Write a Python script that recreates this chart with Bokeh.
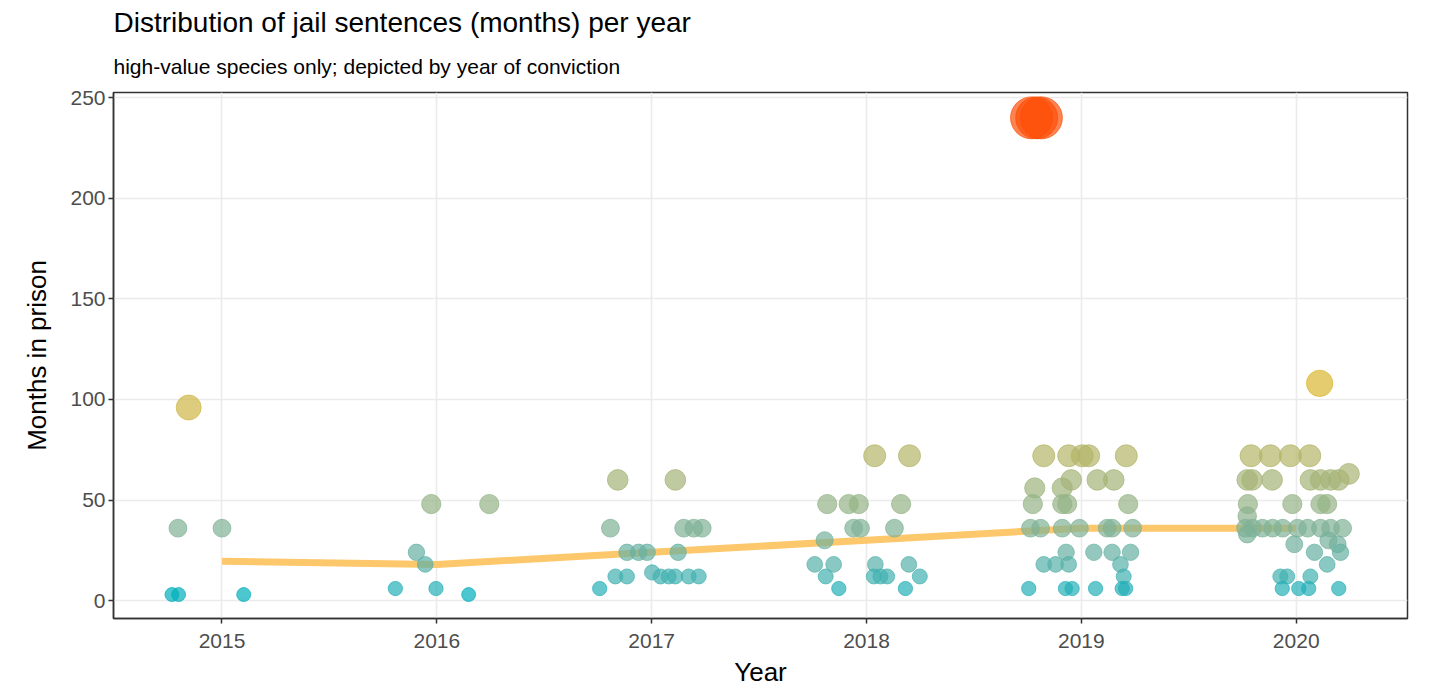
import numpy as np
from bokeh.plotting import figure
from bokeh.models import ColumnDataSource, Range1d, FixedTicker, Title
from bokeh.transform import linear_cmap
from bokeh.embed import file_html
from bokeh.resources import INLINE

# Yearly summary line (months in prison per conviction year)
years = [2015, 2016, 2017, 2018, 2019, 2020]
median_months = [19.5, 18, 24, 30, 36, 36]

# Individual cases: jittered position around the conviction year, sentence in months
x_2015 = [2014.845, 2014.795, 2015.000, 2014.767, 2014.798, 2015.101]
m_2015 = [96, 36, 36, 3, 3, 3]

x_2016 = [2015.807, 2015.905, 2015.946, 2015.974, 2015.996, 2016.148, 2016.244]
m_2016 = [6, 24, 18, 48, 6, 3, 48]

x_2017 = [2016.842, 2017.110, 2016.808, 2017.149, 2017.196, 2017.235, 2016.885,
          2016.939, 2016.979, 2017.123, 2016.831, 2016.885, 2017.002, 2017.041,
          2017.079, 2017.110, 2017.172, 2017.219, 2016.758]
m_2017 = [60, 60, 36, 36, 36, 36, 24,
          24, 24, 24, 12, 12, 14, 12,
          12, 12, 12, 12, 6]

x_2018 = [2018.038, 2018.200, 2017.817, 2017.917, 2017.964, 2018.161, 2017.940,
          2017.972, 2018.130, 2017.805, 2017.759, 2017.847, 2018.041, 2018.197,
          2017.810, 2018.034, 2018.065, 2018.096, 2018.248, 2017.871, 2018.181]
m_2018 = [72, 72, 48, 48, 48, 48, 36,
          36, 36, 30, 18, 18, 18, 18,
          12, 12, 12, 12, 12, 6, 6]

x_2019 = [2018.825, 2018.941, 2019.004, 2019.034, 2019.209,
          2018.783, 2018.911, 2018.953, 2019.074, 2019.151,
          2018.774, 2018.911, 2018.934, 2019.218,
          2018.763, 2018.810, 2018.911, 2018.991, 2019.120, 2019.143, 2019.239,
          2018.929, 2019.058, 2019.143, 2019.229,
          2018.825, 2018.880, 2018.941, 2019.182,
          2019.197,
          2018.755, 2018.926, 2018.957, 2019.066, 2019.190, 2019.206,
          2018.768, 2018.792, 2018.814]
m_2019 = [72, 72, 72, 72, 72,
          56, 56, 60, 60, 60,
          48, 48, 48, 48,
          36, 36, 36, 36, 36, 36, 36,
          24, 24, 24, 24,
          18, 18, 18, 18,
          12,
          6, 6, 6, 6, 6, 6,
          240, 240, 240]

x_2020 = [2020.109,
          2019.790, 2019.880, 2019.973, 2020.063,
          2019.772, 2019.795, 2019.888, 2020.066, 2020.113, 2020.160, 2020.198,
          2020.245,
          2019.775, 2019.982, 2020.113, 2020.144,
          2019.772,
          2019.764, 2019.797, 2019.843, 2019.890, 2019.937, 2020.006, 2020.053,
          2020.113, 2020.160, 2020.216,
          2019.772, 2019.991, 2020.193, 2020.150,
          2020.085, 2020.206,
          2020.144,
          2019.926, 2019.958, 2020.066,
          2019.935, 2020.012, 2020.058, 2020.198]
m_2020 = [108,
          72, 72, 72, 72,
          60, 60, 60, 60, 60, 60, 60,
          63,
          48, 48, 48, 48,
          42,
          36, 36, 36, 36, 36, 36, 36,
          36, 36, 36,
          33, 28, 28, 30,
          24, 24,
          18,
          12, 12, 12,
          6, 6, 6, 6]

x_all = x_2015 + x_2016 + x_2017 + x_2018 + x_2019 + x_2020
m_all = m_2015 + m_2016 + m_2017 + m_2018 + m_2019 + m_2020

y_ticks = [0, 50, 100, 150, 200, 250]


# --- colour scale: teal -> gold -> orange-red, interpolated in CIE Lab ---
def _srgb_to_lab(hexcol):
    rgb = [int(hexcol[i:i + 2], 16) / 255.0 for i in (1, 3, 5)]
    lin = [c / 12.92 if c <= 0.04045 else ((c + 0.055) / 1.055) ** 2.4 for c in rgb]
    r, g, b = lin
    X = (0.4124564 * r + 0.3575761 * g + 0.1804375 * b) / 0.95047
    Y = (0.2126729 * r + 0.7151522 * g + 0.0721750 * b) / 1.0
    Z = (0.0193339 * r + 0.1191920 * g + 0.9503041 * b) / 1.08883

    def f(t):
        return t ** (1 / 3) if t > (6 / 29) ** 3 else t / (3 * (6 / 29) ** 2) + 4 / 29

    fx, fy, fz = f(X), f(Y), f(Z)
    return (116 * fy - 16, 500 * (fx - fy), 200 * (fy - fz))


def _lab_to_hex(L, a, b):
    fy = (L + 16) / 116
    fx = fy + a / 500
    fz = fy - b / 200

    def finv(t):
        return t ** 3 if t > 6 / 29 else 3 * (6 / 29) ** 2 * (t - 4 / 29)

    X, Y, Z = finv(fx) * 0.95047, finv(fy), finv(fz) * 1.08883
    r = 3.2404542 * X - 1.5371385 * Y - 0.4985314 * Z
    g = -0.9692660 * X + 1.8760108 * Y + 0.0415560 * Z
    bl = 0.0556434 * X - 0.2040259 * Y + 1.0572252 * Z
    out = []
    for c in (r, g, bl):
        c = 12.92 * c if c <= 0.0031308 else 1.055 * c ** (1 / 2.4) - 0.055
        out.append(int(round(min(max(c, 0), 1) * 255)))
    return "#%02x%02x%02x" % tuple(out)


def lab_palette(stops, n=256):
    labs = [_srgb_to_lab(s) for s in stops]
    pal = []
    for i in range(n):
        t = i / (n - 1) * (len(stops) - 1)
        k = min(int(t), len(stops) - 2)
        u = t - k
        L = labs[k][0] + (labs[k + 1][0] - labs[k][0]) * u
        A = labs[k][1] + (labs[k + 1][1] - labs[k][1]) * u
        B = labs[k][2] + (labs[k + 1][2] - labs[k][2]) * u
        pal.append(_lab_to_hex(L, A, B))
    return pal


palette = lab_palette(["#00AFBB", "#E7B800", "#FC4E07"])

months = np.array(m_all, dtype=float)
# marker diameter grows with sentence length
sizes = 13.6 + 0.118 * months

src = ColumnDataSource(dict(x=x_all, months=m_all, size=sizes))

FONT = "Liberation Sans"

p = figure(
    width=1432, height=691,
    x_range=Range1d(2014.495, 2020.518),
    y_range=Range1d(-8.9, 252.6),
    output_backend="svg", toolbar_location=None,
    title="Distribution of jail sentences (months) per year",
    min_border_left=113, min_border_right=25,
    min_border_top=92, min_border_bottom=73,
)
p.title.text_font = FONT
p.title.text_font_size = "28px"
p.title.text_font_style = "normal"
p.title.text_color = "black"
p.title.align = "left"
p.title.standoff = 0

p.add_layout(Title(text="high-value species only; depicted by year of conviction",
                   text_font=FONT, text_font_size="21px", text_font_style="normal",
                   text_color="black", align="left", standoff=30), "above")

# panel styling
p.background_fill_color = "white"
p.border_fill_color = "white"
p.outline_line_color = "#333333"
p.outline_line_width = 1.5

p.xgrid.ticker = FixedTicker(ticks=years)
p.ygrid.ticker = FixedTicker(ticks=y_ticks)
for g in (p.xgrid, p.ygrid):
    g.grid_line_color = "#EBEBEB"
    g.grid_line_width = 1.6

p.xaxis.ticker = FixedTicker(ticks=years)
p.yaxis.ticker = FixedTicker(ticks=y_ticks)
for ax in (p.xaxis, p.yaxis):
    ax.axis_line_color = "#333333"
    ax.axis_line_width = 1.5
    ax.major_tick_line_color = "#333333"
    ax.major_tick_line_width = 1.5
    ax.major_tick_out = 5
    ax.major_tick_in = 0
    ax.minor_tick_line_color = None
    ax.major_label_text_font = FONT
    ax.major_label_text_font_size = "21px"
    ax.major_label_text_color = "#4D4D4D"
    ax.axis_label_text_font = FONT
    ax.axis_label_text_font_size = "26px"
    ax.axis_label_text_font_style = "normal"
    ax.axis_label_text_color = "black"

p.xaxis.axis_label = "Year"
p.yaxis.axis_label = "Months in prison"
p.xaxis.major_label_standoff = 10
p.xaxis.axis_label_standoff = 6
p.yaxis.major_label_standoff = 3
p.yaxis.axis_label_standoff = 15

# yearly trend line drawn beneath the points
p.line(x=years, y=median_months, line_color="#FDC86C", line_width=7)

p.scatter(
    x="x", y="months", size="size", source=src,
    fill_color=linear_cmap("months", palette, min(m_all), max(m_all)),
    line_color=linear_cmap("months", palette, min(m_all), max(m_all)),
    fill_alpha=0.7, line_alpha=0.7, line_width=1,
)

open("out.html", "w").write(file_html(p, INLINE))
